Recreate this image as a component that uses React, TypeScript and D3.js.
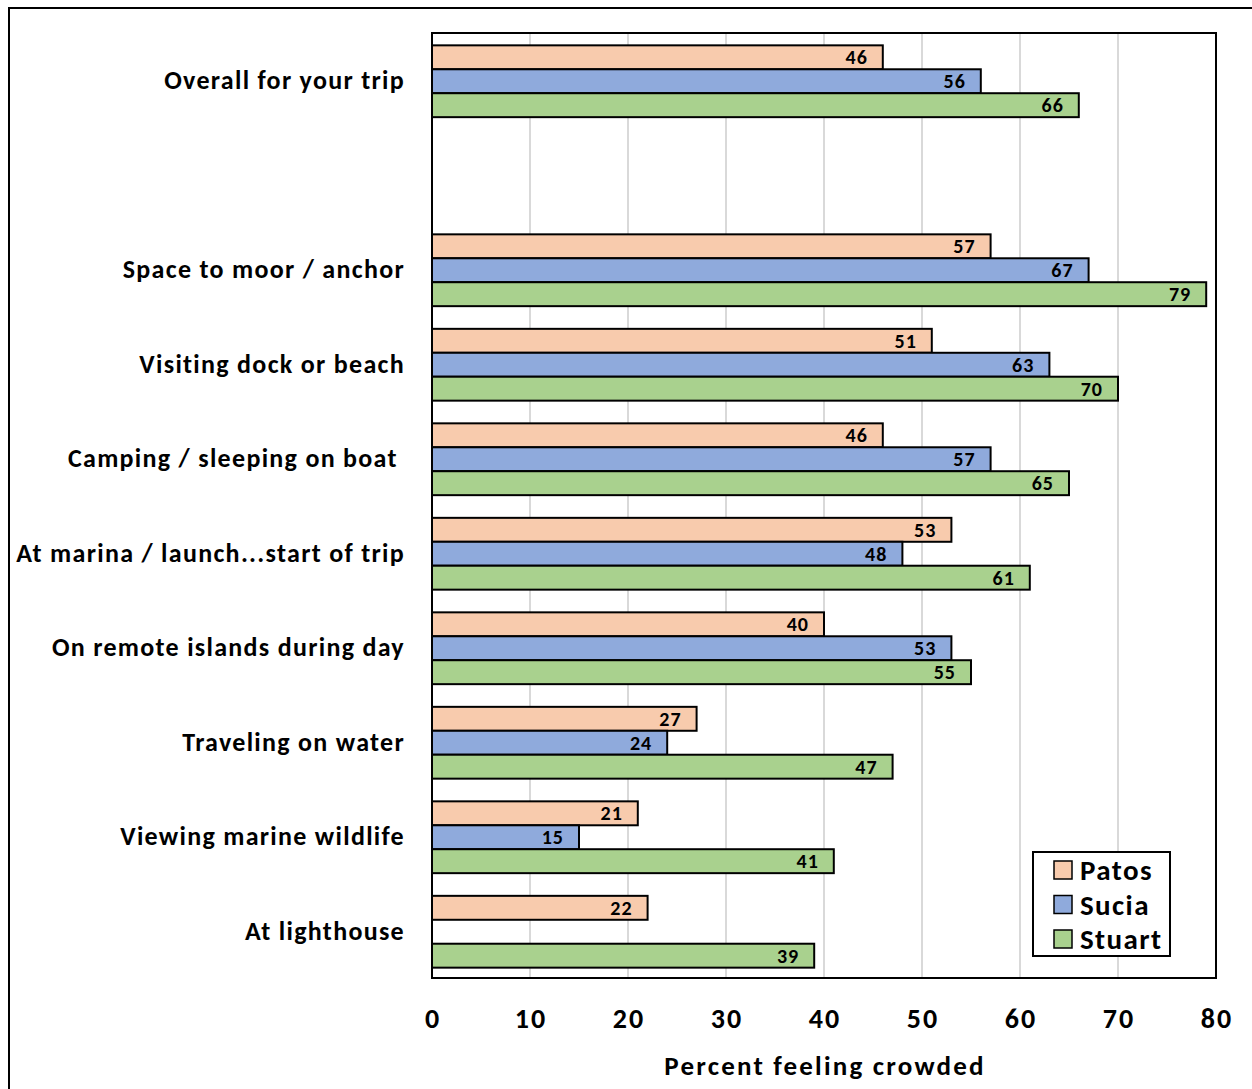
import React from "react";
import * as d3 from "d3";

const categories = [
  "Overall for your trip",
  "",
  "Space to moor / anchor",
  "Visiting dock or beach",
  "Camping / sleeping on boat\u00a0",
  "At marina / launch...start of trip",
  "On remote islands during day",
  "Traveling on water",
  "Viewing marine wildlife",
  "At lighthouse",
];
const seriesNames = ["Patos", "Sucia", "Stuart"];
const patos: (number | null)[] = [46, null, 57, 51, 46, 53, 40, 27, 21, 22];
const sucia: (number | null)[] = [56, null, 67, 63, 57, 48, 53, 24, 15, null];
const stuart: (number | null)[] = [66, null, 79, 70, 65, 61, 55, 47, 41, 39];
const xTicks = [0, 10, 20, 30, 40, 50, 60, 70, 80];
const colors = ["#F8CBAD", "#8FAADC", "#A9D18E"];

const W = 1252, H = 1089;
const L = 432, R = 1216, T = 33, B = 978;
const FONT = "Carlito, Lato, 'Open Sans', sans-serif";

export default function App() {
  const x = d3.scaleLinear().domain([0, 80]).range([L, R]);
  const y = d3.scaleBand<number>().domain(d3.range(categories.length)).range([T, B]).paddingInner(0.24).paddingOuter(0.12);
  const inner = d3.scaleBand<number>().domain([0, 1, 2]).range([0, y.bandwidth()]);
  const data = [patos, sucia, stuart];
  return (
    <svg width={W} height={H} style={{ position: "absolute", left: 0, top: 0 }} fontFamily={FONT}>
      <rect x={0} y={0} width={W} height={H} fill="#fff" />
      <rect x={9} y={8} width={W + 20} height={H + 20} fill="none" stroke="#000" strokeWidth={2} />
      {xTicks.slice(1).map((t) => (
        <line key={t} x1={x(t)} x2={x(t)} y1={T} y2={B} stroke="#D9D9D9" strokeWidth={2} />
      ))}
      {data.map((vals, s) =>
        vals.map((v, i) =>
          v == null ? null : (
            <g key={`${s}-${i}`}>
              <rect x={x(0)} y={y(i)! + inner(s)! + 1} width={x(v) - x(0)} height={inner.bandwidth()} fill={colors[s]} stroke="#000" strokeWidth={2} />
              <text x={x(v) - 15} y={y(i)! + inner(s)! + inner.bandwidth() / 2 + 8} textAnchor="end" fontSize={20} letterSpacing={1} fontWeight="bold" fill="#000">{v}</text>
            </g>
          )
        )
      )}
      <rect x={L} y={T} width={R - L} height={B - T} fill="none" stroke="#000" strokeWidth={2} />
      {categories.map((c, i) => (
        <text key={i} x={L - 27} y={y(i)! + y.bandwidth() / 2 + 9} textAnchor="end" fontSize={26} letterSpacing={1.3} fontWeight="bold" style={{ whiteSpace: "pre" }}>{c}</text>
      ))}
      {xTicks.map((t) => (
        <text key={t} x={x(t) + 1} y={1028} textAnchor="middle" fontSize={28} letterSpacing={2} fontWeight="bold">{t}</text>
      ))}
      <text x={825} y={1075} textAnchor="middle" fontSize={27} letterSpacing={2.2} fontWeight="bold">Percent feeling crowded</text>
      <rect x={1033} y={852} width={137} height={104} fill="#fff" stroke="#000" strokeWidth={2} />
      {seriesNames.map((n, s) => (
        <g key={n}>
          <rect x={1054} y={861 + s * 34.5} width={18} height={18} fill={colors[s]} stroke="#000" strokeWidth={1.5} />
          <text x={1080} y={880 + s * 34.5} fontSize={29} letterSpacing={1.4} fontWeight="bold">{n}</text>
        </g>
      ))}
    </svg>
  );
}
